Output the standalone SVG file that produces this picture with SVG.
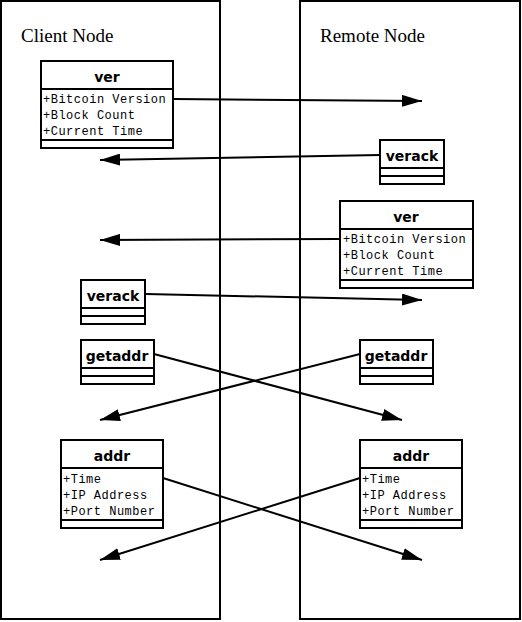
<svg xmlns="http://www.w3.org/2000/svg" width="522" height="622" viewBox="0 0 522 622">
<style>
.frame{fill:none;stroke:#000;stroke-width:2}
.box{fill:#fff;stroke:#000;stroke-width:2}
.sep{stroke:#000;stroke-width:2}
.title{font-family:"Liberation Serif","Times New Roman",serif;font-size:19px;fill:#000}
.hdr{font-family:"DejaVu Sans",sans-serif;font-weight:bold;font-size:14px;fill:#000;text-anchor:middle}
.attr{font-family:"Liberation Mono","Courier New",monospace;font-size:12px;letter-spacing:0.5px;fill:#000}
.conn{fill:none;stroke:#000;stroke-width:2;marker-end:url(#ah)}
</style>
<defs>
<marker id="ah" markerUnits="userSpaceOnUse" markerWidth="20" markerHeight="12" refX="20" refY="6" orient="auto">
<path d="M0,0 L20,6 L0,12 z" fill="#000"/>
</marker>
</defs>
<rect id="client" class="frame" x="1" y="1" width="219" height="618"/>
<text class="title" x="21" y="42">Client Node</text>
<rect id="remote" class="frame" x="300" y="1" width="220" height="618"/>
<text class="title" x="320" y="42">Remote Node</text>

<g id="connectors">
<path class="conn" d="M174,99 L422,101"/>
<path class="conn" d="M380,155 L100,160"/>
<path class="conn" d="M340,239 L100,240"/>
<path class="conn" d="M146,294 L422,300"/>
<path class="conn" d="M154,354 L402,420"/>
<path class="conn" d="M360,354 L100,420"/>
<path class="conn" d="M163,478 L422,560"/>
<path class="conn" d="M360,478 L100,560"/>
</g>

<g id="client-ver">
<rect class="box" x="41" y="61" width="132" height="87"/>
<line class="sep" x1="41" y1="89" x2="173" y2="89"/>
<line class="sep" x1="41" y1="140" x2="173" y2="140"/>
<text class="hdr" x="107" y="82">ver</text>
<text class="attr" x="43" y="103">+Bitcoin Version</text>
<text class="attr" x="43" y="119">+Block Count</text>
<text class="attr" x="43" y="135">+Current Time</text>
</g>

<g id="remote-verack">
<rect class="box" x="380" y="140" width="64" height="44"/>
<line class="sep" x1="380" y1="168" x2="444" y2="168"/>
<line class="sep" x1="380" y1="176" x2="444" y2="176"/>
<text class="hdr" x="412" y="161">verack</text>
</g>

<g id="remote-ver">
<rect class="box" x="340" y="201" width="133" height="87"/>
<line class="sep" x1="340" y1="229" x2="473" y2="229"/>
<line class="sep" x1="340" y1="280" x2="473" y2="280"/>
<text class="hdr" x="406" y="222">ver</text>
<text class="attr" x="343" y="243">+Bitcoin Version</text>
<text class="attr" x="343" y="259">+Block Count</text>
<text class="attr" x="343" y="275">+Current Time</text>
</g>

<g id="client-verack">
<rect class="box" x="81" y="280" width="64" height="44"/>
<line class="sep" x1="81" y1="308" x2="145" y2="308"/>
<line class="sep" x1="81" y1="316" x2="145" y2="316"/>
<text class="hdr" x="113" y="301">verack</text>
</g>

<g id="client-getaddr">
<rect class="box" x="81" y="340" width="73" height="44"/>
<line class="sep" x1="81" y1="368" x2="154" y2="368"/>
<line class="sep" x1="81" y1="376" x2="154" y2="376"/>
<text class="hdr" x="117" y="361">getaddr</text>
</g>

<g id="remote-getaddr">
<rect class="box" x="360" y="340" width="73" height="44"/>
<line class="sep" x1="360" y1="368" x2="433" y2="368"/>
<line class="sep" x1="360" y1="376" x2="433" y2="376"/>
<text class="hdr" x="396" y="361">getaddr</text>
</g>

<g id="client-addr">
<rect class="box" x="61" y="440" width="102" height="88"/>
<line class="sep" x1="61" y1="468" x2="163" y2="468"/>
<line class="sep" x1="61" y1="520" x2="163" y2="520"/>
<text class="hdr" x="112" y="461">addr</text>
<text class="attr" x="63" y="483">+Time</text>
<text class="attr" x="63" y="499">+IP Address</text>
<text class="attr" x="63" y="515">+Port Number</text>
</g>

<g id="remote-addr">
<rect class="box" x="360" y="440" width="102" height="88"/>
<line class="sep" x1="360" y1="468" x2="462" y2="468"/>
<line class="sep" x1="360" y1="520" x2="462" y2="520"/>
<text class="hdr" x="411" y="461">addr</text>
<text class="attr" x="362" y="483">+Time</text>
<text class="attr" x="362" y="499">+IP Address</text>
<text class="attr" x="362" y="515">+Port Number</text>
</g>
</svg>
